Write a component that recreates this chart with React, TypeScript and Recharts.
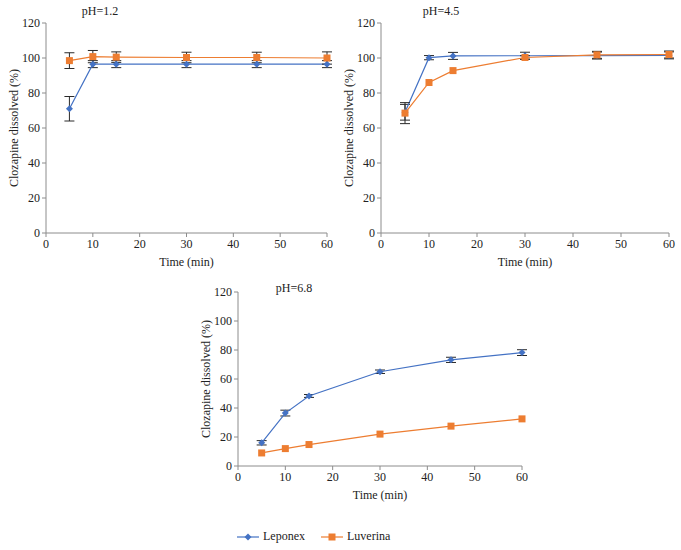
import {
  LineChart,
  Line,
  XAxis,
  YAxis,
  ErrorBar,
  Legend,
} from "recharts";

const times = [5, 10, 15, 30, 45, 60];
const xTicks = [0, 10, 20, 30, 40, 50, 60];
const yTicks = [0, 20, 40, 60, 80, 100, 120];

// pH 1.2
const lep12 = [71, 96.5, 96.5, 96.5, 96.5, 96.5];
const lep12Err = [7, 2, 2, 2, 2, 2];
const luv12 = [98.5, 100.8, 100.5, 100.3, 100.3, 100];
const luv12Err = [4.5, 3.5, 3, 3, 3, 3.5];

// pH 4.5
const lep45 = [69, 100.2, 101.2, 101.3, 101.4, 101.5];
const lep45Err = [4.5, 1.2, 2, 2, 2, 2];
const luv45 = [68.5, 86, 92.8, 100.3, 101.8, 102];
const luv45Err = [6, 0, 0, 1, 2, 2];

// pH 6.8
const lep68 = [16, 36.5, 48.3, 65, 73.2, 78.2];
const lep68Err = [1.5, 2, 1, 1.2, 1.8, 2];
const luv68 = [9, 12, 14.8, 22, 27.5, 32.5];
const luv68Err = [0, 0, 0, 0, 0, 0];

const BLUE = "#4472C4";
const ORANGE = "#ED7D31";
const FONT = "'Liberation Serif', 'DejaVu Serif', serif";
const AXIS = "#8c8c8c";
const TEXT = "#222";

const build = (lep: number[], lepErr: number[], luv: number[], luvErr: number[]) =>
  times.map((t, i) => ({
    t,
    lep: lep[i],
    lepErr: lepErr[i],
    luv: luv[i],
    luvErr: luvErr[i],
  }));

const Diamond = (p: any) => {
  const { cx, cy } = p;
  if (cx == null || cy == null) return <g key={p.index} />;
  const s = 3.5;
  return (
    <polygon
      key={`d-${p.index}`}
      points={`${cx},${cy - s} ${cx + s},${cy} ${cx},${cy + s} ${cx - s},${cy}`}
      fill={BLUE}
    />
  );
};

const Square = (p: any) => {
  const { cx, cy } = p;
  if (cx == null || cy == null) return <g key={p.index} />;
  const s = 3.5;
  return (
    <rect key={`s-${p.index}`} x={cx - s} y={cy - s} width={s * 2} height={s * 2} fill={ORANGE} />
  );
};

function LegendContent() {
  return (
    <div
      style={{
        display: "flex",
        alignItems: "center",
        fontFamily: FONT,
        fontSize: 12,
        color: TEXT,
      }}
    >
      <svg width={22} height={10}>
        <line x1={0} y1={5} x2={22} y2={5} stroke={BLUE} strokeWidth={1.2} />
        <polygon points="11,1.5 14.5,5 11,8.5 7.5,5" fill={BLUE} />
      </svg>
      <span style={{ marginLeft: 4, marginRight: 16 }}>Leponex</span>
      <svg width={22} height={10}>
        <line x1={0} y1={5} x2={22} y2={5} stroke={ORANGE} strokeWidth={1.2} />
        <rect x={7.5} y={1.5} width={7} height={7} fill={ORANGE} />
      </svg>
      <span style={{ marginLeft: 4 }}>Luverina</span>
    </div>
  );
}

function Panel({
  data,
  title,
  left,
  top,
  width,
  height,
  margin,
  titleX,
  titleY,
  legend = false,
}: {
  data: any[];
  title: string;
  left: number;
  top: number;
  width: number;
  height: number;
  margin: { top: number; right: number; bottom: number; left: number };
  titleX: number;
  titleY: number;
  legend?: boolean;
}) {
  const tick = { fill: TEXT, fontSize: 12, fontFamily: FONT, style: { fontFamily: FONT } };
  return (
    <div style={{ position: "absolute", left, top, width, height, fontFamily: FONT }}>
      <LineChart
        width={width}
        height={height}
        data={data}
        margin={margin}
        style={{ fontFamily: FONT }}
      >
        <XAxis
          dataKey="t"
          type="number"
          domain={[0, 60]}
          ticks={xTicks}
          tick={tick}
          tickSize={4}
          height={42}
          stroke={AXIS}
          label={{
            value: "Time (min)",
            position: "insideBottom",
            offset: 9,
            fill: TEXT,
            fontSize: 12,
            fontFamily: FONT,
            style: { fontFamily: FONT },
          }}
        />
        <YAxis
          domain={[0, 120]}
          ticks={yTicks}
          tick={tick}
          tickSize={4}
          width={40}
          stroke={AXIS}
          label={{
            value: "Clozapine dissolved (%)",
            angle: -90,
            position: "insideLeft",
            offset: 8,
            fill: TEXT,
            fontSize: 12,
            fontFamily: FONT,
            style: { textAnchor: "middle", fontFamily: FONT },
          }}
        />
        <Line
          dataKey="lep"
          name="Leponex"
          stroke={BLUE}
          strokeWidth={1.2}
          dot={Diamond}
          activeDot={false}
          isAnimationActive={false}
        >
          <ErrorBar dataKey="lepErr" width={5} strokeWidth={1} stroke="#2a2a2a" direction="y" />
        </Line>
        <Line
          dataKey="luv"
          name="Luverina"
          stroke={ORANGE}
          strokeWidth={1.2}
          dot={Square}
          activeDot={false}
          isAnimationActive={false}
        >
          <ErrorBar dataKey="luvErr" width={5} strokeWidth={1} stroke="#2a2a2a" direction="y" />
        </Line>
        {legend && (
          <Legend
            verticalAlign="bottom"
            align="left"
            content={<LegendContent />}
            wrapperStyle={{ left: 57, bottom: 6, width: 200 }}
          />
        )}
      </LineChart>
      <div
        style={{
          position: "absolute",
          left: titleX,
          top: titleY,
          transform: "translate(-50%, -50%)",
          fontFamily: FONT,
          fontSize: 12,
          color: TEXT,
          whiteSpace: "nowrap",
        }}
      >
        {title}
      </div>
    </div>
  );
}

export default function App() {
  return (
    <div
      style={{
        position: "absolute",
        left: 0,
        top: 0,
        width: 681,
        height: 550,
        background: "#fff",
      }}
    >
      <Panel
        data={build(lep12, lep12Err, luv12, luv12Err)}
        title="pH=1.2"
        left={0}
        top={0}
        width={340}
        height={275}
        margin={{ top: 23, right: 13, bottom: 0, left: 6 }}
        titleX={100}
        titleY={11}
      />
      <Panel
        data={build(lep45, lep45Err, luv45, luv45Err)}
        title="pH=4.5"
        left={340}
        top={0}
        width={341}
        height={275}
        margin={{ top: 23, right: 12, bottom: 0, left: 1 }}
        titleX={101}
        titleY={11}
      />
      <Panel
        data={build(lep68, lep68Err, luv68, luv68Err)}
        title="pH=6.8"
        left={180}
        top={270}
        width={360}
        height={280}
        margin={{ top: 22, right: 18, bottom: 27, left: 18 }}
        titleX={114}
        titleY={18}
        legend
      />
    </div>
  );
}
